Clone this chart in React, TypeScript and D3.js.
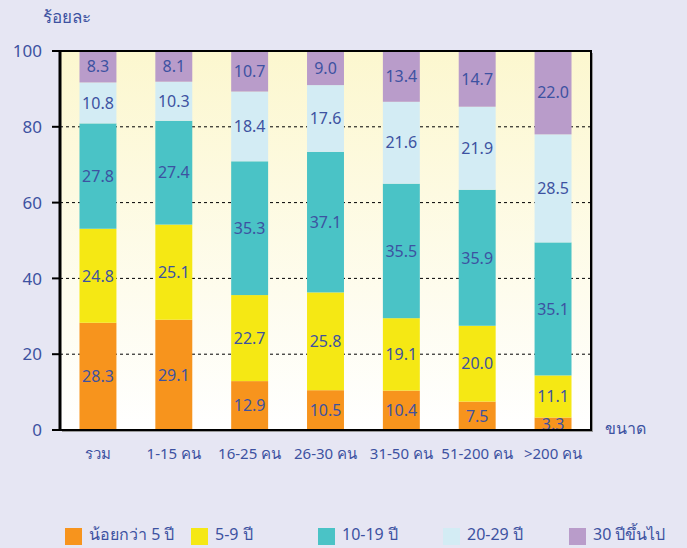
import React from "react";
import * as d3 from "d3";

const categories = ["รวม", "1-15 คน", "16-25 คน", "26-30 คน", "31-50 คน", "51-200 คน", ">200 คน"];
const seriesNames = ["น้อยกว่า 5 ปี", "5-9 ปี", "10-19 ปี", "20-29 ปี", "30 ปีขึ้นไป"];
const under5 = [28.3, 29.1, 12.9, 10.5, 10.4, 7.5, 3.3];
const y5to9 = [24.8, 25.1, 22.7, 25.8, 19.1, 20.0, 11.1];
const y10to19 = [27.8, 27.4, 35.3, 37.1, 35.5, 35.9, 35.1];
const y20to29 = [10.8, 10.3, 18.4, 17.6, 21.6, 21.9, 28.5];
const y30plus = [8.3, 8.1, 10.7, 9.0, 13.4, 14.7, 22.0];
const yTicks = [0, 20, 40, 60, 80, 100];
const colors = ["#f7941d", "#f5e814", "#4ac3c6", "#d3ecf4", "#b99cca"];

const W = 687;
const H = 548;
const margin = { top: 51, right: 96, bottom: 118, left: 60 };
const innerW = W - margin.left - margin.right;
const innerH = H - margin.top - margin.bottom;
const textColor = "#3d52a1";
const font = "Tahoma, 'Noto Sans', 'DejaVu Sans', sans-serif";

export default function App() {
  const rows = categories.map((c, i) => ({
    cat: c,
    s0: under5[i],
    s1: y5to9[i],
    s2: y10to19[i],
    s3: y20to29[i],
    s4: y30plus[i],
  }));
  const keys = ["s0", "s1", "s2", "s3", "s4"];
  const stacked = d3.stack<any>().keys(keys)(rows);

  const x = d3.scaleBand().domain(categories).range([0, innerW]).paddingInner(0.513).paddingOuter(0.257);
  const y = d3.scaleLinear().domain([0, 100]).range([innerH, 0]);

  const legendX = [65, 191, 318, 443, 569];

  return (
    <svg width={W} height={H} style={{ display: "block", position: "absolute", left: 0, top: 0, background: "#e6e6f3" }} fontFamily={font}>
      <defs>
        <linearGradient id="bg" x1="0" y1="0" x2="0" y2="1">
          <stop offset="0" stopColor="#fcf7cf" />
          <stop offset="1" stopColor="#ffffff" />
        </linearGradient>
      </defs>
      <g transform={`translate(${margin.left},${margin.top})`}>
        <rect x={2} y={2} width={innerW} height={innerH} fill="#9a9a9a" />
        <rect width={innerW} height={innerH} fill="url(#bg)" />
        {yTicks.filter((t) => t > 0 && t < 100).map((t) => (
          <line key={t} x1={0} x2={innerW} y1={y(t)} y2={y(t)} stroke="#000" strokeDasharray="3,3" strokeWidth={1} />
        ))}
        {stacked.map((layer, li) => (
          <g key={li}>
            {layer.map((d, i) => (
              <rect
                key={i}
                x={x(categories[i])}
                y={y(d[1])}
                width={x.bandwidth()}
                height={y(d[0]) - y(d[1])}
                fill={colors[li]}
              />
            ))}
          </g>
        ))}
        {stacked.map((layer, li) => (
          <g key={"t" + li}>
            {layer.map((d, i) => (
              <text
                key={i}
                x={(x(categories[i]) as number) + x.bandwidth() / 2}
                y={y((d[0] + d[1]) / 2)}
                dy="0.36em"
                textAnchor="middle"
                fontSize={16}
                fill={textColor}
              >
                {(d[1] - d[0]).toFixed(1)}
              </text>
            ))}
          </g>
        ))}
        <rect width={innerW} height={innerH} fill="none" stroke="#000" strokeWidth={2} />
        <line x1={0} x2={0} y1={-1} y2={innerH + 1} stroke="#000" strokeWidth={3} />
        {yTicks.map((t) => (
          <g key={t} transform={`translate(0,${y(t)})`}>
            <line x1={-8} x2={0} stroke="#000" strokeWidth={2} />
            <text x={-18} dy="0.36em" textAnchor="end" fontSize={17} fill={textColor}>
              {t}
            </text>
          </g>
        ))}
        {categories.map((c) => (
          <text
            key={c}
            x={(x(c) as number) + x.bandwidth() / 2}
            y={innerH + 29}
            textAnchor="middle"
            fontSize={15}
            fill={textColor}
          >
            {c}
          </text>
        ))}
        <text x={-17} y={-28} fontSize={17} fill={textColor}>ร้อยละ</text>
        <text x={innerW + 14} y={innerH + 4} fontSize={16} fill={textColor}>ขนาด</text>
      </g>
      {seriesNames.map((n, i) => (
        <g key={n} transform={`translate(${legendX[i]},528)`}>
          <rect width={17} height={17} fill={colors[i]} />
          <text x={24} y={12} fontSize={16} fill={textColor}>
            {n}
          </text>
        </g>
      ))}
    </svg>
  );
}
